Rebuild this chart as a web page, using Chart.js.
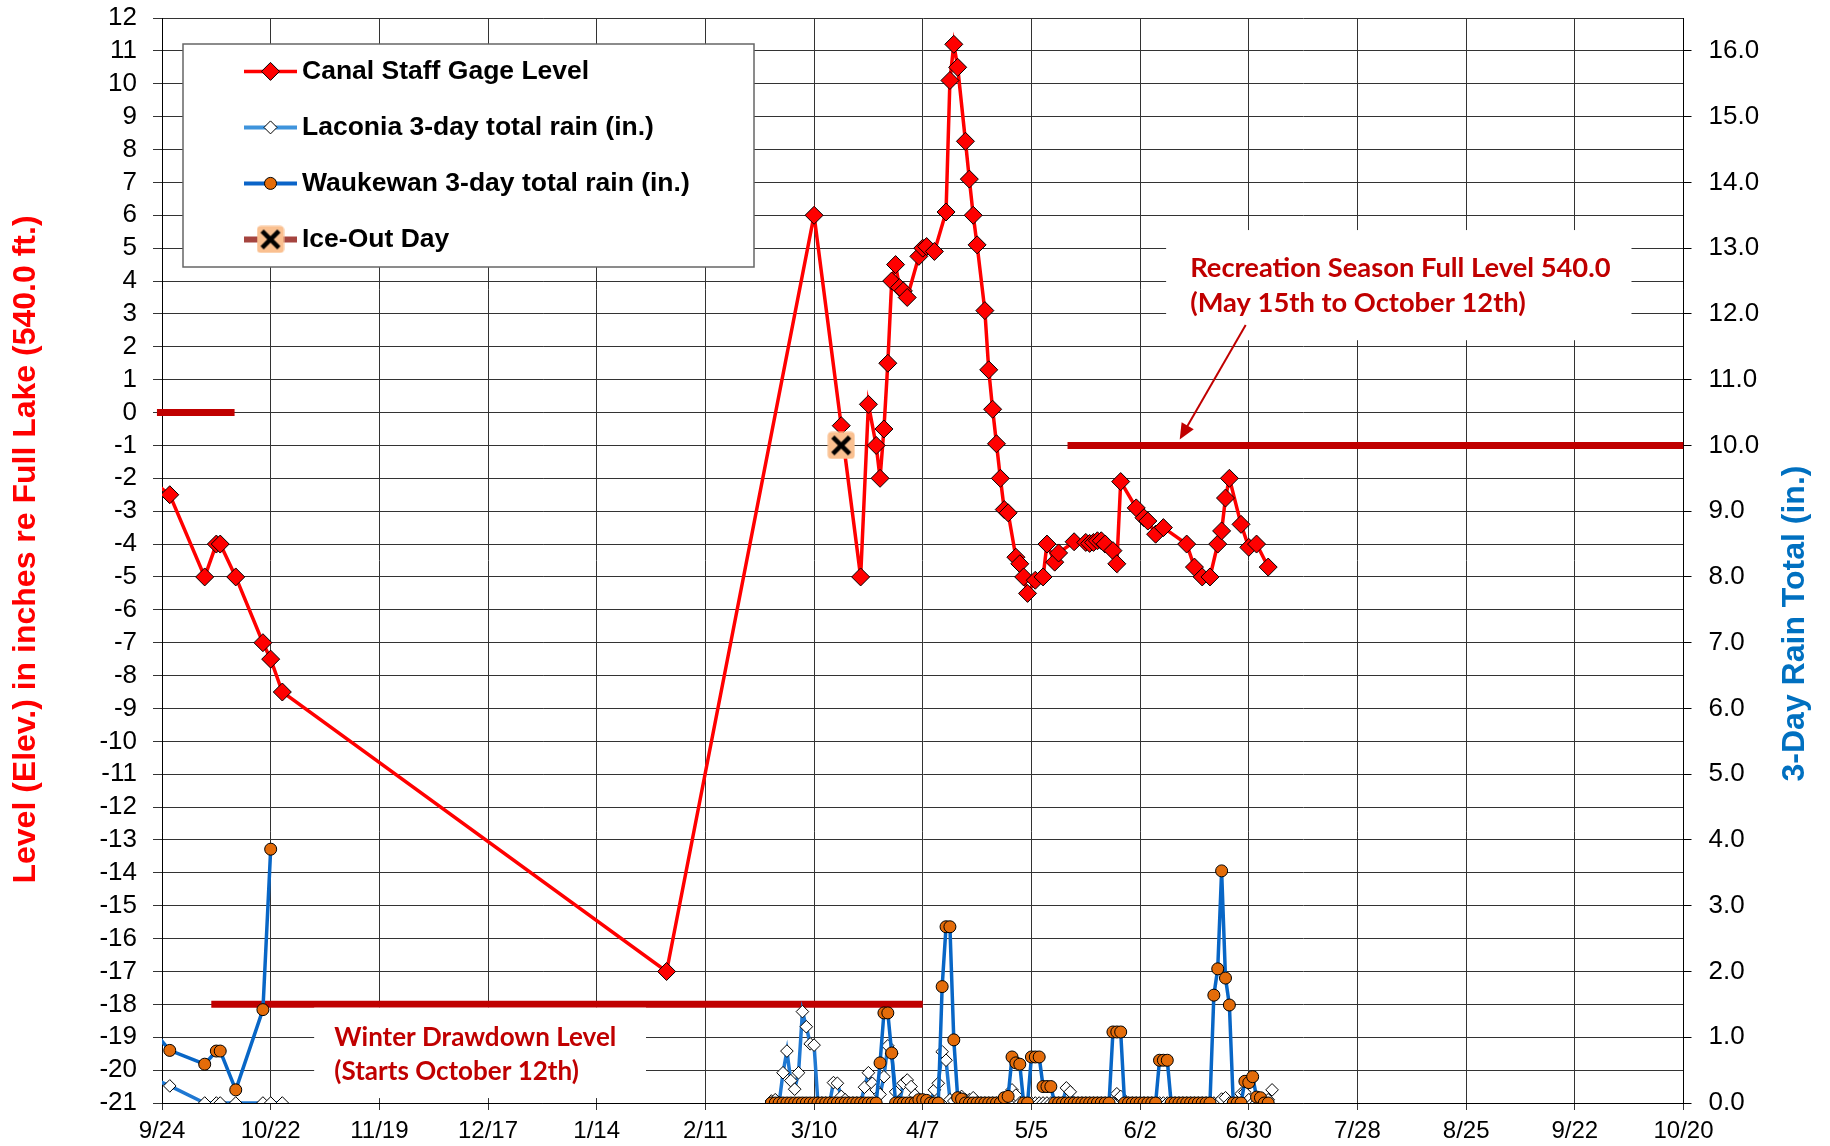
<!DOCTYPE html>
<html>
<head>
<meta charset="utf-8">
<title>Canal Staff Gage Level</title>
<script src="https://cdn.jsdelivr.net/npm/chart.js@4.4.1/dist/chart.umd.min.js"></script>
<style>
  html, body { margin: 0; padding: 0; background: #fff; }
  #wrap { width: 1830px; height: 1146px; }
</style>
</head>
<body>
<div id="wrap"><canvas id="gage-chart" width="1830" height="1146"></canvas></div>
<script>
// x is counted in days from 9/24, one tick every 28 days
const xTickLabels = ['9/24', '10/22', '11/19', '12/17', '1/14', '2/11', '3/10', '4/7',
  '5/5', '6/2', '6/30', '7/28', '8/25', '9/22', '10/20'];

// Canal Staff Gage Level, inches re full lake
const canalDays = [-5, 2, 11, 14, 15, 19, 26, 28, 31,
  130, 168, 175, 180, 182,
  184, 185, 186, 187, 188, 189, 190, 191, 192,
  195, 196, 197, 199, 202, 203, 204, 205,
  207, 208, 209, 210, 212, 213, 214, 215, 216, 217, 218,
  220, 221, 222, 223, 225, 227, 228, 230, 231,
  235, 238, 239, 240, 241, 242, 243, 245, 246, 247,
  251, 253, 254, 256, 258, 264, 266, 268, 270,
  272, 273, 274, 275, 278, 280, 282, 285];
const canalLevel = [-1.85, -2.5, -5, -4, -4, -5, -7, -7.5, -8.5,
  -17, 6, -0.4, -5, 0.25,
  -1, -2, -0.5, 1.5, 4, 4.5, 3.8, 3.7, 3.5,
  4.75, 5, 5.05, 4.9, 6.1, 10.1, 11.2, 10.5,
  8.25, 7.1, 6, 5.1, 3.1, 1.3, 0.1, -0.95, -2, -2.95, -3.05,
  -4.4, -4.6, -5, -5.5, -5.1, -5, -4, -4.55, -4.27,
  -3.93, -3.95, -3.98, -3.95, -3.9, -3.9, -4, -4.2, -4.6, -2.1,
  -2.9, -3.2, -3.3, -3.7, -3.5, -4, -4.7, -5, -5,
  -4, -3.6, -2.6, -2, -3.4, -4.1, -4, -4.7];

const iceOutDay = [175];
const iceOutLevel = [-1];

// target levels (thick dark red bars)
const fullLakeDays = [-1.3, 18.7];
const fullLakeLevel = [0, 0];
const winterDays = [12.7, 196];
const winterLevel = [-18, -18];
const summerDays = [233.3, 392];
const summerLevel = [-1, -1];

// 3-day rain totals (in.), fall readings
const fallRainDays = [-5, 2, 11, 14, 15, 19, 26, 28, 31];
const fallLaconia = [0.44, 0.26, 0, 0, 0, 0, 0, 0, 0];
const fallWaukewan = [1.29, 0.8, 0.59, 0.79, 0.79, 0.2, 1.42, 3.86, null];

// daily readings from late February on
const springRainDays = [
  157, 158, 159, 160, 161, 162, 163, 164, 165, 166,
  167, 168, 169, 170, 171, 172, 173, 174, 175, 176,
  177, 178, 179, 180, 181, 182, 183, 184, 185, 186,
  187, 188, 189, 190, 191, 192, 193, 194, 195, 196,
  197, 198, 199, 200, 201, 202, 203, 204, 205, 206,
  207, 208, 209, 210, 211, 212, 213, 214, 215, 216,
  217, 218, 219, 220, 221, 222, 223, 224, 225, 226,
  227, 228, 229, 230, 231, 232, 233, 234, 235, 236,
  237, 238, 239, 240, 241, 242, 243, 244, 245, 246,
  247, 248, 249, 250, 251, 252, 253, 254, 255, 256,
  257, 258, 259, 260, 261, 262, 263, 264, 265, 266,
  267, 268, 269, 270, 271, 272, 273, 274, 275, 276,
  277, 278, 279, 280, 281, 282, 283, 284, 285, 286];
const springLaconia = [
  0.03, 0.05, 0, 0.46, 0.79, 0.34, 0.21, 0.46, 1.39, 1.16,
  0.9, 0.88, 0, 0, 0, 0, 0.31, 0.3, 0.1, 0.05,
  0, 0, 0, 0, 0.24, 0.46, 0.3, 0.2, 0.13, 0.4,
  0.87, 0.75, 0.17, 0, 0.3, 0.35, 0.25, 0.12, 0, 0,
  0, 0, 0.2, 0.3, 0.78, 0.65, 0.05, 0.03, 0.08, 0.1,
  0.05, 0.05, 0.08, 0, 0, 0, 0, 0, 0, 0,
  0, 0, 0.2, 0.12, 0, 0, 0, 0, 0, 0,
  0, 0, 0, 0, 0, 0, 0.23, 0.17, 0, 0,
  0, 0, 0, 0, 0, 0, 0, 0, 0, 0.14,
  0.1, 0, 0, 0, 0, 0, 0, 0, 0, 0,
  0, 0, 0, 0, 0, 0, 0, 0, 0, 0,
  0, 0, 0, 0, 0, 0, 0.06, 0.08, 0, 0,
  0, 0.14, 0.16, 0.05, 0, 0, 0, 0, 0.05, 0.2];
const springWaukewan = [
  0, 0, 0, 0, 0, 0, 0, 0, 0, 0,
  0, 0, 0, 0, 0, 0, 0, 0, 0, 0,
  0, 0, 0, 0, 0, 0, 0, 0, 0.61, 1.37,
  1.37, 0.76, 0, 0, 0, 0, 0, 0, 0.05, 0.05,
  0.04, 0, 0, 0, 1.77, 2.68, 2.68, 0.96, 0.08, 0.06,
  0, 0, 0, 0, 0, 0, 0, 0, 0, 0,
  0.08, 0.1, 0.7, 0.61, 0.59, 0, 0, 0.7, 0.7, 0.7,
  0.25, 0.25, 0.25, 0, 0, 0, 0, 0, 0, 0,
  0, 0, 0, 0, 0, 0, 0, 0, 1.08, 1.08,
  1.08, 0, 0, 0, 0, 0, 0, 0, 0, 0,
  0.65, 0.65, 0.65, 0, 0, 0, 0, 0, 0, 0,
  0, 0, 0, 0, 1.64, 2.04, 3.53, 1.9, 1.49, 0,
  0, 0, 0.33, 0.31, 0.4, 0.09, 0.08, 0, 0, null];

function points(days, values) {
  return days.map((d, i) => ({x: d, y: values[i]})).filter(p => p.y !== null);
}

function iceOutIcon(size) {
  const c = document.createElement('canvas');
  c.width = size; c.height = size;
  const g = c.getContext('2d');
  g.fillStyle = '#fac090';
  g.beginPath();
  g.roundRect(0.5, 0.5, size - 1, size - 1, 4);
  g.fill();
  g.strokeStyle = '#000';
  g.lineWidth = 4.5;
  const m = size * 0.2;
  g.beginPath();
  g.moveTo(m, m); g.lineTo(size - m, size - m);
  g.moveTo(size - m, m); g.lineTo(m, size - m);
  g.stroke();
  return c;
}

const tickFont = "'Liberation Sans', Arial, sans-serif";

// text boxes, arrow, legend and axis titles
const overlay = {
  id: 'overlay',
  afterDatasetsDraw(chart) {
    const {ctx, chartArea: area, scales: {x, y}} = chart;
    const o = chart.options.plugins.overlay;

    o.notes.forEach(n => {
      const l = x.getPixelForValue(n.box[0]), r = x.getPixelForValue(n.box[1]);
      const t = y.getPixelForValue(n.box[2]), b = y.getPixelForValue(n.box[3]);
      ctx.save();
      ctx.fillStyle = '#fff';
      ctx.fillRect(l, t, r - l, b - t);
      ctx.fillStyle = '#c00000';
      ctx.font = 'bold ' + n.size + "px Lato, 'Open Sans', sans-serif";
      ctx.textBaseline = 'middle';
      n.lines.forEach((s, i) => ctx.fillText(s, x.getPixelForValue(n.textAt[0]), y.getPixelForValue(n.textAt[i + 1])));
      ctx.restore();
    });

    // arrow to the recreation level
    const a = o.arrow;
    const x0 = x.getPixelForValue(a.from[0]), y0 = y.getPixelForValue(a.from[1]);
    const x1 = x.getPixelForValue(a.to[0]), y1 = y.getPixelForValue(a.to[1]);
    const ang = Math.atan2(y1 - y0, x1 - x0);
    ctx.save();
    ctx.strokeStyle = ctx.fillStyle = '#c00000';
    ctx.lineWidth = 2;
    ctx.beginPath();
    ctx.moveTo(x0, y0);
    ctx.lineTo(x1 - 10 * Math.cos(ang), y1 - 10 * Math.sin(ang));
    ctx.stroke();
    ctx.beginPath();
    ctx.moveTo(x1, y1);
    ctx.lineTo(x1 - 16 * Math.cos(ang) + 7 * Math.sin(ang), y1 - 16 * Math.sin(ang) - 7 * Math.cos(ang));
    ctx.lineTo(x1 - 16 * Math.cos(ang) - 7 * Math.sin(ang), y1 - 16 * Math.sin(ang) + 7 * Math.cos(ang));
    ctx.closePath();
    ctx.fill();
    ctx.restore();

    // legend box inside the plot, top left
    const lg = o.legend;
    const bx = area.left + lg.left, by = area.top + lg.top;
    ctx.save();
    ctx.fillStyle = '#fff';
    ctx.fillRect(bx, by, lg.width, lg.height);
    ctx.strokeStyle = '#666';
    ctx.lineWidth = 1.5;
    ctx.strokeRect(bx, by, lg.width, lg.height);
    lg.order.forEach((di, k) => {
      const ds = chart.data.datasets[di];
      const cy = by + lg.rowTop + k * lg.rowGap;
      const sx = bx + lg.sampleX;
      ctx.strokeStyle = ds.legendLine.color;
      ctx.lineWidth = ds.legendLine.width;
      ctx.beginPath();
      ctx.moveTo(sx, cy); ctx.lineTo(sx + lg.sampleW, cy);
      ctx.stroke();
      ctx.fillStyle = ds.pointBackgroundColor || '#000';
      ctx.strokeStyle = ds.pointBorderColor || '#000';
      ctx.lineWidth = ds.pointBorderWidth || 1;
      Chart.helpers.drawPoint(ctx, {
        pointStyle: ds.pointStyle, rotation: 0,
        radius: ds.legendRadius || ds.pointRadius, borderWidth: ds.pointBorderWidth || 0
      }, sx + lg.sampleW / 2, cy);
      ctx.fillStyle = '#000';
      ctx.font = 'bold 26.5px ' + tickFont;
      ctx.textBaseline = 'middle';
      ctx.fillText(ds.label, bx + lg.textX, cy);
    });
    ctx.restore();
  },
  afterDraw(chart) {
    const {ctx} = chart;
    chart.options.plugins.overlay.titles.forEach(t => {
      ctx.save();
      ctx.translate(t.x, t.y);
      ctx.rotate(-Math.PI / 2);
      ctx.fillStyle = t.color;
      ctx.font = 'bold 32px ' + tickFont;
      ctx.textAlign = 'center';
      ctx.textBaseline = 'middle';
      ctx.fillText(t.text, 0, 0);
      ctx.restore();
    });
  }
};

const gridColor = '#333';

new Chart(document.getElementById('gage-chart'), {
  type: 'line',
  data: {
    datasets: [
      {
        label: 'Ice-Out Day',
        data: points(iceOutDay, iceOutLevel),
        yAxisID: 'y',
        showLine: false,
        pointStyle: iceOutIcon(28),
        pointRadius: 14,
        legendLine: {color: '#a5443f', width: 6}
      },
      {
        label: 'Canal Staff Gage Level',
        data: points(canalDays, canalLevel),
        yAxisID: 'y',
        borderColor: '#ff0000',
        borderWidth: 3.5,
        pointStyle: 'rectRot',
        pointRadius: 9,
        pointBackgroundColor: '#ff0000',
        pointBorderColor: '#000',
        pointBorderWidth: 1,
        spanGaps: true,
        legendLine: {color: '#ff0000', width: 3.5}
      },
      {
        label: 'Waukewan 3-day total rain (in.)',
        data: points(fallRainDays, fallWaukewan).concat(points(springRainDays, springWaukewan)),
        yAxisID: 'y1',
        borderColor: '#0866c6',
        borderWidth: 3.5,
        pointStyle: 'circle',
        pointRadius: 6,
        pointBackgroundColor: '#e46c0a',
        pointBorderColor: '#000',
        pointBorderWidth: 1,
        spanGaps: 40,
        legendRadius: 6,
        legendLine: {color: '#0a64c8', width: 4}
      },
      {
        label: 'Laconia 3-day total rain (in.)',
        data: points(fallRainDays, fallLaconia).concat(points(springRainDays, springLaconia)),
        yAxisID: 'y1',
        borderColor: '#1f78d2',
        borderWidth: 3.5,
        pointStyle: 'rectRot',
        pointRadius: 6.3,
        pointBackgroundColor: '#fff',
        pointBorderColor: '#000',
        pointBorderWidth: 1,
        spanGaps: 40,
        legendRadius: 6.5,
        legendLine: {color: '#3f94dc', width: 4}
      },
      {
        label: 'full lake',
        data: points(fullLakeDays, fullLakeLevel),
        yAxisID: 'y',
        borderColor: '#c00000',
        borderWidth: 7,
        pointRadius: 0,
        clip: {left: 10, top: 0, right: 0, bottom: 0}
      },
      {
        label: 'winter drawdown',
        data: points(winterDays, winterLevel),
        yAxisID: 'y',
        borderColor: '#c00000',
        borderWidth: 7,
        pointRadius: 0
      },
      {
        label: 'recreation season',
        data: points(summerDays, summerLevel),
        yAxisID: 'y',
        borderColor: '#c00000',
        borderWidth: 7,
        pointRadius: 0
      }
    ]
  },
  options: {
    responsive: false,
    animation: false,
    layout: { padding: {top: 18, left: 0, right: 0, bottom: 0} },
    elements: { line: { tension: 0 } },
    scales: {
      x: {
        type: 'linear', min: 0, max: 392,
        ticks: {
          stepSize: 28, maxTicksLimit: 40, autoSkip: false, maxRotation: 0,
          color: '#000', padding: 7, font: {family: tickFont, size: 24},
          callback: (v, i) => xTickLabels[i]
        },
        grid: { color: gridColor, lineWidth: 1, tickLength: 7 },
        border: { color: '#000', width: 1 },
        afterFit: s => { s.height = 43; s.paddingLeft = 0; s.paddingRight = 0; }
      },
      y: {
        position: 'left', min: -21, max: 12,
        ticks: {
          stepSize: 1, maxTicksLimit: 40, autoSkip: false,
          color: '#000', padding: 16, font: {family: tickFont, size: 26}
        },
        grid: { color: gridColor, lineWidth: 1, tickLength: 9 },
        border: { color: '#000', width: 1 },
        afterFit: s => { s.width = 162; s.paddingTop = 0; s.paddingBottom = 0; }
      },
      y1: {
        position: 'right', min: 0, max: 16.5,
        ticks: {
          stepSize: 1, maxTicksLimit: 40, autoSkip: false,
          color: '#000', padding: 17, font: {family: tickFont, size: 26},
          callback: v => (v > 16 ? null : v.toFixed(1))
        },
        grid: { drawOnChartArea: false, color: '#000', tickLength: 8 },
        border: { color: '#000', width: 1 },
        afterFit: s => { s.width = 146.5; s.paddingTop = 0; s.paddingBottom = 0; }
      }
    },
    plugins: {
      legend: { display: false },
      tooltip: { enabled: false },
      overlay: {
        notes: [
          { lines: ['Winter Drawdown Level', '(Starts October 12th)'], size: 26,
            box: [39.2, 124.7, -18.1, -20.85], textAt: [44.4, -19.0, -20.05] },
          { lines: ['Recreation Season Full Level 540.0', '(May 15th to October 12th)'], size: 27.3,
            box: [258.7, 378.6, 5.55, 2.2], textAt: [264.9, 4.39, 3.33] }
        ],
        arrow: { from: [279.2, 2.66], to: [262.2, -0.82] },
        legend: { left: 21, top: 26, width: 571, height: 223, rowTop: 27.4, rowGap: 56,
                  sampleX: 61, sampleW: 53, textX: 119, order: [1, 3, 2, 0] },
        titles: [
          { text: 'Level (Elev.) in inches re Full Lake (540.0 ft.)', color: '#ff0000', x: 26, y: 549.5 },
          { text: '3-Day Rain Total (in.)', color: '#0070c0', x: 1795, y: 623.5 }
        ]
      }
    }
  },
  plugins: [overlay]
});
</script>
</body>
</html>
